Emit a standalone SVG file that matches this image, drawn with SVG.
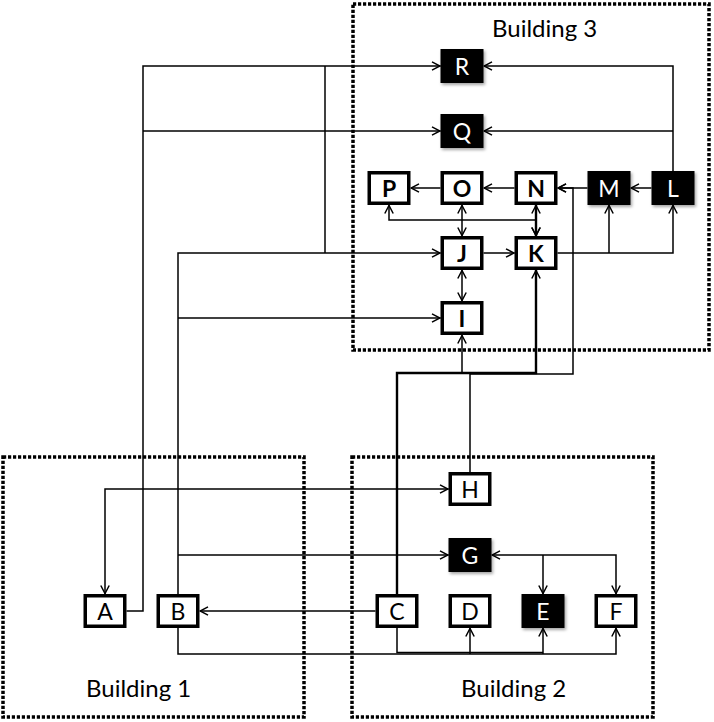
<svg xmlns="http://www.w3.org/2000/svg" width="714" height="722" viewBox="0 0 714 722">
<defs>
<marker id="arr" viewBox="0 0 10 10" refX="10" refY="5" markerWidth="10" markerHeight="10" markerUnits="userSpaceOnUse" orient="auto-start-reverse">
<path d="M1.5,0.8 L9.5,5 L1.5,9.2" fill="none" stroke="#000" stroke-width="1.5"/>
</marker>
<filter id="sh" x="-20%" y="-20%" width="150%" height="150%">
<feDropShadow dx="1.5" dy="2" stdDeviation="1.5" flood-color="#000" flood-opacity="0.35"/>
</filter>
</defs>
<style>
.bld{fill:none;stroke:#000;stroke-width:3.5;stroke-dasharray:3.2 1.8}
.btxt{font-family:Lato,"Open Sans","Liberation Sans",sans-serif;font-size:24px;fill:#000}
.wn rect{fill:#fff;stroke:#000;stroke-width:3.5}
.bn rect{fill:#000;filter:url(#sh)}
.lbl{font-family:Lato,"Open Sans","Liberation Sans",sans-serif;font-size:23px;text-anchor:middle;dominant-baseline:central}
.wn .lbl{fill:#000}
.bn .lbl{fill:#fff}
.bold .lbl{font-weight:bold}
#connectors path{fill:none;stroke:#000;stroke-width:1.5}
#connectors .e{marker-end:url(#arr)}
#connectors .b{marker-start:url(#arr);marker-end:url(#arr)}
#connectors .thick{stroke-width:2.4}
</style>
<g id="buildings">
<rect class="bld" x="353" y="4" width="356" height="346"/>
<rect class="bld" x="3" y="457" width="301" height="260"/>
<rect class="bld" x="352" y="457" width="301" height="260"/>
<text class="btxt" x="492" y="37">Building 3</text>
<text class="btxt" x="86" y="697">Building 1</text>
<text class="btxt" x="461" y="697">Building 2</text>
</g>
<g id="connectors">
<path class="e" d="M126.5,611 H143 V66 H440.5"/>
<path class="e" d="M143,131 H440.5"/>
<path d="M325,66 V253"/>
<path class="e" d="M178,594 V253 H440.5"/>
<path class="e" d="M178,318 H440.5"/>
<path class="e" d="M178,555 H448.5"/>
<path class="e" d="M673,171 V66 H483.5"/>
<path class="e" d="M673,131 H483.5"/>
<path class="e" d="M651.5,188 H630.5"/>
<path class="e" d="M587.5,188 H557.5"/>
<path class="e" d="M514.5,188 H483.5"/>
<path class="e" d="M440.5,188 H410.5"/>
<path class="b" d="M462,205 V236"/>
<path class="b" d="M389,205 V220 H536 V236"/>
<path class="b thick" d="M536,205 V236"/>
<path class="e" d="M483.5,253 H514.5"/>
<path class="b" d="M462,270 V301"/>
<path class="e" d="M557.5,253 H673 V205"/>
<path class="e" d="M609,253 V205"/>
<path class="e thick" d="M397,594 V373 H536 V270"/>
<path class="e" d="M470,472 V374 H573 V188 H557.5"/>
<path class="e" d="M462,374 V335"/>
<path class="b" d="M448.5,489 H105 V594"/>
<path class="e" d="M375.5,611 H199.5"/>
<path class="b" d="M491.5,555 H616 V594"/>
<path class="e" d="M543,555 V594"/>
<path class="e" d="M178,628 V654 H616 V628"/>
<path class="e" d="M470,654 V628"/>
<path class="e" d="M543,654 V628"/>
<path d="M397,628 V652.5 H543"/>
</g>
<g id="node-R" class="bn"><rect x="440.5" y="49" width="43" height="34"/><text class="lbl" x="462" y="66">R</text></g>
<g id="node-Q" class="bn"><rect x="440.5" y="114" width="43" height="34"/><text class="lbl" x="462" y="131">Q</text></g>
<g id="node-P" class="wn bold"><rect x="369.25" y="172.75" width="39.5" height="30.5"/><text class="lbl" x="389" y="188">P</text></g>
<g id="node-O" class="wn bold"><rect x="442.25" y="172.75" width="39.5" height="30.5"/><text class="lbl" x="462" y="188">O</text></g>
<g id="node-N" class="wn bold"><rect x="516.25" y="172.75" width="39.5" height="30.5"/><text class="lbl" x="536" y="188">N</text></g>
<g id="node-M" class="bn"><rect x="587.5" y="171" width="43" height="34"/><text class="lbl" x="609" y="188">M</text></g>
<g id="node-L" class="bn"><rect x="651.5" y="171" width="43" height="34"/><text class="lbl" x="673" y="188">L</text></g>
<g id="node-J" class="wn bold"><rect x="442.25" y="237.75" width="39.5" height="30.5"/><text class="lbl" x="462" y="253">J</text></g>
<g id="node-K" class="wn bold"><rect x="516.25" y="237.75" width="39.5" height="30.5"/><text class="lbl" x="536" y="253">K</text></g>
<g id="node-I" class="wn bold"><rect x="442.25" y="302.75" width="39.5" height="30.5"/><text class="lbl" x="462" y="318">I</text></g>
<g id="node-H" class="wn"><rect x="450.25" y="473.75" width="39.5" height="30.5"/><text class="lbl" x="470" y="489">H</text></g>
<g id="node-G" class="bn"><rect x="448.5" y="538" width="43" height="34"/><text class="lbl" x="470" y="555">G</text></g>
<g id="node-A" class="wn"><rect x="85.25" y="595.75" width="39.5" height="30.5"/><text class="lbl" x="105" y="611">A</text></g>
<g id="node-B" class="wn"><rect x="158.25" y="595.75" width="39.5" height="30.5"/><text class="lbl" x="178" y="611">B</text></g>
<g id="node-C" class="wn"><rect x="377.25" y="595.75" width="39.5" height="30.5"/><text class="lbl" x="397" y="611">C</text></g>
<g id="node-D" class="wn"><rect x="450.25" y="595.75" width="39.5" height="30.5"/><text class="lbl" x="470" y="611">D</text></g>
<g id="node-E" class="bn"><rect x="521.5" y="594" width="43" height="34"/><text class="lbl" x="543" y="611">E</text></g>
<g id="node-F" class="wn"><rect x="596.25" y="595.75" width="39.5" height="30.5"/><text class="lbl" x="616" y="611">F</text></g>
</svg>
